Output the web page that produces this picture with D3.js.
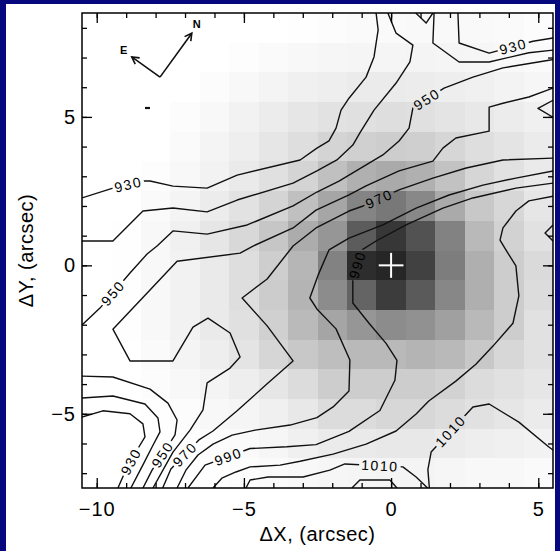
<!DOCTYPE html>
<html>
<head>
<meta charset="utf-8">
<script src="https://cdn.jsdelivr.net/npm/d3@7"></script>
<style>
  html, body { margin: 0; padding: 0; background: #07077e; }
  svg { display: block; }
  text { font-family: "Liberation Sans", Arial, Helvetica, sans-serif; fill: #000; }
</style>
</head>
<body>
<svg id="chart" width="560" height="551"></svg>
<script>
// ---- intensity map: 1 arcsec pixels, centres on integer offsets ----
const mapX = d3.range(-10, 6);       // columns, -10 .. 5
const mapY = d3.range(8, -8, -1);    // rows, 8 .. -7 (top to bottom)
const mapDarkness = [
  [0,0,0,0,0,0,0,1,3,5,5,6,6,6,5,3],
  [0,0,0,0,0,2,5,7,9,10,10,11,10,9,7,5],
  [0,0,0,0,3,7,11,15,17,20,20,19,17,15,12,9],
  [0,0,0,3,7,13,19,25,29,31,33,31,27,23,19,15],
  [0,0,0,5,11,17,25,33,43,47,50,48,41,33,27,20],
  [0,0,2,7,13,21,31,43,63,79,85,79,61,41,30,21],
  [0,0,5,11,19,29,43,63,89,123,135,119,85,55,40,25],
  [0,1,7,15,25,39,57,83,105,163,200,173,125,70,45,30],
  [0,1,7,13,21,33,49,73,125,210,217,190,130,80,50,37],
  [0,1,7,13,21,33,51,75,115,155,195,165,120,80,50,35],
  [0,1,7,13,21,31,47,69,90,105,115,110,95,70,50,30],
  [0,0,5,11,17,27,41,55,65,70,70,75,70,55,40,30],
  [0,0,3,7,11,17,25,35,50,50,50,50,45,35,30,25],
  [0,0,1,3,7,10,15,23,35,35,40,40,35,30,25,20],
  [0,0,0,1,3,5,9,15,20,21,23,23,20,17,15,13],
  [0,0,0,0,1,3,5,7,9,10,11,11,9,7,7,5]
];

// ---- contour paths (arcsec offsets) ----
const c920 = [[-8.36,5.30],[-8.19,5.30]];
const c930a = [[-10.5,2.27],[-9.45,2.60],[-8.43,2.84],[-8.19,2.84],[-7.41,2.67],[-6.25,2.60],[-5.23,3.04],[-3.09,3.55],[-2.52,3.95],[-2.11,4.19],[-1.87,4.62],[-1.70,5.23],[-1.43,5.63],[-0.85,6.34],[-0.58,7.02],[-0.44,7.93],[-0.51,8.5]];
const c930b = [[2.27,8.5],[2.31,7.49],[3.33,7.15],[4.82,7.55],[5.5,7.66]];
const c930c = [[-10.5,-5.11],[-9.79,-4.90],[-8.87,-5.00],[-8.43,-5.34],[-8.36,-5.78],[-8.63,-6.22],[-9.07,-7.03],[-9.28,-7.5]];
const c940a = [[-10.5,0.82],[-9.45,0.82],[-8.43,1.83],[-7.41,1.93],[-6.25,1.80],[-5.23,2.20],[-3.33,2.77],[-2.52,3.18],[-1.84,3.55],[-1.30,4.05],[-1.06,4.46],[-0.58,5.23],[0.17,6.14],[0.64,6.85],[0.74,7.42],[0.17,7.82],[-0.11,8.5]];
const c940b = [[1.46,8.5],[1.42,7.49],[2.31,6.85],[3.33,6.85],[4.68,7.16],[5.5,7.25]];
const c940c = [[-10.5,-4.47],[-9.45,-4.40],[-8.36,-4.67],[-7.92,-5.14],[-7.85,-5.61],[-8.12,-6.12],[-8.43,-6.72],[-8.84,-7.5]];
const c950 = [[-10.5,-2.01],[-9.89,-1.44],[-8.87,-0.26],[-8.29,0.38],[-7.95,0.65],[-7.41,1.16],[-6.25,1.05],[-4.89,1.36],[-3.33,2.0],[-2.52,2.47],[-1.77,2.84],[-0.28,3.72],[0.27,4.19],[0.61,4.62],[0.74,5.30],[1.80,5.97],[2.78,6.34],[3.80,6.65],[5.36,6.91],[5.5,6.93]];
const c950a = [[-10.5,-3.73],[-9.45,-3.76],[-8.19,-4.17],[-7.58,-4.64],[-7.27,-5.21],[-7.34,-5.71],[-7.54,-6.02],[-8.12,-6.90],[-8.43,-7.5]];
const c950b = [[0.84,8.5],[1.19,8.16],[1.42,8.5]];
const c960 = [[5.5,5.97],[4.68,5.67],[3.80,5.46],[3.33,5.33],[3.33,4.52],[2.20,4.29],[1.76,3.95],[1.42,3.51],[0.27,3.18],[-0.85,2.68],[-1.43,2.37],[-2.55,1.86],[-3.33,1.26],[-4.69,0.65],[-5.13,0.41],[-7.27,0.14],[-8.19,-0.83],[-9.45,-2.15],[-8.87,-3.22],[-7.41,-3.22],[-6.73,-2.08],[-6.22,-1.78],[-5.47,-2.28],[-5.13,-3.09],[-5.47,-3.46],[-6.25,-3.96],[-6.39,-4.87],[-6.83,-5.55],[-7.41,-6.29],[-8.09,-7.5]];
const c960b = [[5.5,5.56],[4.99,5.29],[5.5,4.99]];
const c970 = [[5.5,3.61],[3.80,3.55],[2.55,3.28],[1.42,2.94],[0.27,2.54],[-0.95,2.00],[-1.43,1.83],[-2.55,1.26],[-3.33,0.65],[-4.21,-0.46],[-5.06,-1.10],[-4.21,-2.04],[-3.33,-3.22],[-4.21,-3.99],[-5.23,-4.90],[-6.05,-5.58],[-6.53,-5.88],[-7.48,-6.86],[-7.76,-7.5]];
const c980 = [[5.5,3.18],[4.24,2.94],[3.12,2.70],[1.97,2.37],[0.85,1.93],[-0.28,1.36],[-1.43,0.92],[-2.11,0.52],[-2.48,-0.33],[-2.76,-1.10],[-2.52,-1.47],[-1.87,-2.14],[-1.40,-3.19],[-1.43,-4.23],[-1.97,-4.77],[-2.52,-5.13],[-3.43,-5.38],[-4.62,-5.55],[-5.40,-5.72],[-6.05,-6.02],[-6.56,-6.39],[-6.97,-6.90],[-7.27,-7.5]];
const c990 = [[5.5,2.77],[4.24,2.60],[2.78,2.27],[1.76,1.93],[0.51,1.36],[-0.51,0.82],[-0.99,0.52],[-1.30,-0.46],[-1.30,-1.27],[-0.75,-1.95],[-0.17,-2.63],[0.20,-3.20],[0.13,-3.87],[-0.38,-4.89],[-1.43,-5.59],[-2.55,-6.04],[-3.54,-6.11],[-4.79,-6.17],[-6.32,-6.73],[-6.90,-7.5]];
const c1000 = [[5.5,2.33],[4.68,2.17],[4.24,1.83],[3.80,1.26],[3.70,0.85],[3.90,0.52],[4.24,-0.02],[4.34,-1.03],[4.14,-1.95],[3.46,-2.72],[2.88,-3.33],[2.20,-3.90],[1.28,-4.57],[0.85,-5.01],[0.17,-5.58],[-0.85,-6.02],[-1.97,-6.36],[-3.09,-6.60],[-3.77,-6.73],[-4.79,-6.79],[-5.27,-6.96],[-5.75,-7.17],[-6.05,-7.5]];
const c1000b = [[5.5,1.36],[5.23,1.09],[5.5,0.82]];
const c1010a = [[1.30,-7.5],[1.25,-6.88],[1.36,-6.29],[2.78,-4.77],[3.33,-4.67],[4.34,-5.28],[5.36,-6.12],[5.5,-6.22]];
const c1010b = [[-4.93,-7.5],[-4.79,-7.23],[-4.18,-7.13],[-2.99,-7.13],[-2.08,-6.90],[-1.57,-6.69],[0.40,-6.79],[0.85,-7.13],[1.24,-7.5]];
const c1020 = [[-1.33,-7.5],[-1.06,-7.23],[-0.04,-7.23],[0.20,-7.5]];

const contours = [
  ["c920", 920, c920], ["c930a", 930, c930a], ["c930b", 930, c930b], ["c930c", 930, c930c],
  ["c940a", 940, c940a], ["c940b", 940, c940b], ["c940c", 940, c940c],
  ["c950", 950, c950], ["c950a", 950, c950a], ["c950b", 950, c950b],
  ["c960", 960, c960], ["c960b", 960, c960b], ["c970", 970, c970], ["c980", 980, c980],
  ["c990", 990, c990], ["c1000", 1000, c1000], ["c1000b", 1000, c1000b],
  ["c1010a", 1010, c1010a], ["c1010b", 1010, c1010b], ["c1020", 1020, c1020]
];

// contour labels: which path, and where along it (arcsec)
const contourLabels = [
  ["c930a", -8.93, 2.72], ["c930b", 4.14, 7.40], ["c950", -9.45, -0.93], ["c950", 1.19, 5.63],
  ["c970", -0.41, 2.25], ["c990", -1.12, 0.01], ["c930c", -8.87, -6.59], ["c950a", -7.80, -6.35],
  ["c970", -7.02, -6.35], ["c990", -5.54, -6.42], ["c1010b", -0.38, -6.74], ["c1010a", 1.98, -5.55]
];

// axis ticks
const xMajor = [-10, -5, 0, 5];
const xMinor = d3.range(-10, 6);
const yMajor = [-5, 0, 5];
const yMinor = d3.range(-7, 9);

// orientation marker (arcsec): vertex, north tip, east tip
const compassOrigin = [-7.85, 6.34];
const compassN = [-6.77, 7.82];
const compassE = [-8.81, 7.02];

// reference position marker
const centre = [0, 0];

// ---------------------------------------------------------------
const W = 560, H = 551;
const box = { left: 82, right: 553, top: 13, bottom: 488 };
const svg = d3.select("#chart");
const defs = svg.append("defs");

const x = d3.scaleLinear().domain([-10.5, 5.5]).range([box.left, box.right]);
const y = d3.scaleLinear().domain([-7.5, 8.5]).range([box.bottom, box.top]);

// white page on the dark frame
svg.append("rect").attr("x", 6).attr("y", 4).attr("width", 549).attr("height", 547).attr("fill", "#ffffff");

defs.append("clipPath").attr("id", "plot-clip")
  .append("rect").attr("x", box.left).attr("y", box.top)
  .attr("width", box.right - box.left).attr("height", box.bottom - box.top);

// grey-scale map
const shade = d3.scaleLinear().domain([0, 255]).range(["#ffffff", "#000000"]);
const cells = [];
mapY.forEach((yv, i) => mapX.forEach((xv, j) => cells.push({ xv, yv, v: mapDarkness[i][j] })));
svg.append("g").attr("clip-path", "url(#plot-clip)")
  .selectAll("rect").data(cells).join("rect")
  .attr("x", d => x(d.xv - 0.5))
  .attr("y", d => y(d.yv + 0.5))
  .attr("width", d => x(d.xv + 0.5) - x(d.xv - 0.5) + 0.3)
  .attr("height", d => y(d.yv - 0.5) - y(d.yv + 0.5) + 0.3)
  .attr("fill", d => shade(d.v))
  .attr("shape-rendering", "crispEdges");

// label gaps in the contour lines
const gapMask = defs.append("mask").attr("id", "label-gaps")
  .attr("maskUnits", "userSpaceOnUse").attr("x", 0).attr("y", 0).attr("width", W).attr("height", H);
gapMask.append("rect").attr("width", W).attr("height", H).attr("fill", "white");

const pathByName = {};
contours.forEach(([name, level, pts]) => { pathByName[name] = { level, pts }; });

const line = d3.line().x(d => x(d[0])).y(d => y(d[1]));

const contourG = svg.append("g").attr("clip-path", "url(#plot-clip)");
contourG.append("g").attr("mask", "url(#label-gaps)")
  .selectAll("path").data(contours).join("path")
  .attr("d", d => line(d[2]))
  .attr("fill", "none")
  .attr("stroke", "#111")
  .attr("stroke-width", d => d[1] === 920 ? 2.2 : 1.4)
  .attr("stroke-linejoin", "round");

const labelG = svg.append("g");
contourLabels.forEach(([name, lx, ly]) => {
  const c = pathByName[name];
  const pts = c.pts.map(p => [x(p[0]), y(p[1])]);
  const P = [x(lx), y(ly)];
  let best = null;
  for (let i = 0; i < pts.length - 1; i++) {
    const a = pts[i], b = pts[i + 1];
    const dx = b[0] - a[0], dy = b[1] - a[1];
    let t = ((P[0] - a[0]) * dx + (P[1] - a[1]) * dy) / (dx * dx + dy * dy);
    t = Math.max(0, Math.min(1, t));
    const q = [a[0] + t * dx, a[1] + t * dy];
    const dist = Math.hypot(P[0] - q[0], P[1] - q[1]);
    if (!best || dist < best.dist) best = { dist, q, ang: Math.atan2(dy, dx) * 180 / Math.PI };
  }
  let ang = best.ang;
  if (ang > 90) ang -= 180;
  if (ang < -90) ang += 180;
  const tr = `translate(${best.q[0]},${best.q[1]}) rotate(${ang})`;
  const t = labelG.append("text")
    .attr("transform", tr)
    .attr("text-anchor", "middle")
    .attr("dy", "0.36em")
    .style("font-size", "14px")
    .style("letter-spacing", "1.6px")
    .text(c.level);
  const w = t.node().getComputedTextLength();
  gapMask.append("rect")
    .attr("x", -w / 2 - 2).attr("y", -6).attr("width", w + 4).attr("height", 12)
    .attr("transform", tr).attr("fill", "black");
});

// reference cross
const arm = 0.42;
const crossG = svg.append("g").attr("stroke", "#ffffff").attr("stroke-width", 2);
crossG.append("line").attr("x1", x(centre[0] - arm)).attr("x2", x(centre[0] + arm))
  .attr("y1", y(centre[1])).attr("y2", y(centre[1]));
crossG.append("line").attr("x1", x(centre[0])).attr("x2", x(centre[0]))
  .attr("y1", y(centre[1] - arm * 1.0)).attr("y2", y(centre[1] + arm * 1.0));

// N / E orientation arrows
const compassG = svg.append("g").attr("stroke", "#111").attr("stroke-width", 1.6).attr("fill", "none");
function arrow(from, to, name, lp) {
  const x0 = x(from[0]), y0 = y(from[1]), x1 = x(to[0]), y1 = y(to[1]);
  compassG.append("line").attr("x1", x0).attr("y1", y0).attr("x2", x1).attr("y2", y1);
  const a = Math.atan2(y1 - y0, x1 - x0), hl = 8, ha = 0.5;
  compassG.append("path").attr("d",
    `M${x1 - hl * Math.cos(a - ha)},${y1 - hl * Math.sin(a - ha)}L${x1},${y1}L${x1 - hl * Math.cos(a + ha)},${y1 - hl * Math.sin(a + ha)}`);
  svg.append("text").attr("x", x1 + lp[0]).attr("y", y1 + lp[1])
    .attr("text-anchor", "middle").attr("dy", "0.35em")
    .style("font-size", "11px").style("font-weight", "bold").text(name);
}
arrow(compassOrigin, compassN, "N", [5, -9]);
arrow(compassOrigin, compassE, "E", [-8, -7]);

// axes: ticks on all four sides, pointing inwards
function styleAxis(g) {
  g.select(".domain").remove();
  g.selectAll(".tick line").attr("stroke", "#000").attr("stroke-width", 1.3);
  g.selectAll(".tick text").style("font-size", "20px").style("letter-spacing", "1px")
    .attr("fill", "#000").style("font-family", "'Liberation Sans', Arial, Helvetica, sans-serif");
}
svg.append("g").attr("transform", `translate(0,${box.bottom})`)
  .call(d3.axisBottom(x).tickValues(xMinor).tickSizeInner(-5).tickSizeOuter(0).tickFormat("")).call(styleAxis);
svg.append("g").attr("transform", `translate(0,${box.bottom})`)
  .call(d3.axisBottom(x).tickValues(xMajor).tickSizeInner(-10).tickSizeOuter(0).tickPadding(14)).call(styleAxis);
svg.append("g").attr("transform", `translate(0,${box.top})`)
  .call(d3.axisTop(x).tickValues(xMinor).tickSizeInner(-5).tickSizeOuter(0).tickFormat("")).call(styleAxis);
svg.append("g").attr("transform", `translate(0,${box.top})`)
  .call(d3.axisTop(x).tickValues(xMajor).tickSizeInner(-10).tickSizeOuter(0).tickFormat("")).call(styleAxis);
svg.append("g").attr("transform", `translate(${box.left},0)`)
  .call(d3.axisLeft(y).tickValues(yMinor).tickSizeInner(-5).tickSizeOuter(0).tickFormat("")).call(styleAxis);
svg.append("g").attr("transform", `translate(${box.left},0)`)
  .call(d3.axisLeft(y).tickValues(yMajor).tickSizeInner(-10).tickSizeOuter(0).tickPadding(6)).call(styleAxis);
svg.append("g").attr("transform", `translate(${box.right},0)`)
  .call(d3.axisRight(y).tickValues(yMinor).tickSizeInner(-5).tickSizeOuter(0).tickFormat("")).call(styleAxis);
svg.append("g").attr("transform", `translate(${box.right},0)`)
  .call(d3.axisRight(y).tickValues(yMajor).tickSizeInner(-10).tickSizeOuter(0).tickFormat("")).call(styleAxis);

// plot frame
svg.append("rect").attr("x", box.left).attr("y", box.top)
  .attr("width", box.right - box.left).attr("height", box.bottom - box.top)
  .attr("fill", "none").attr("stroke", "#000").attr("stroke-width", 1.5);

// axis titles
svg.append("text").attr("x", (box.left + box.right) / 2).attr("y", 541)
  .attr("text-anchor", "middle").style("font-size", "20px").style("letter-spacing", "0.5px")
  .text("ΔX, (arcsec)");
svg.append("text").attr("transform", `translate(33,${(box.top + box.bottom) / 2}) rotate(-90)`)
  .attr("text-anchor", "middle").style("font-size", "20px").style("letter-spacing", "0.5px")
  .text("ΔY, (arcsec)");
</script>
</body>
</html>
